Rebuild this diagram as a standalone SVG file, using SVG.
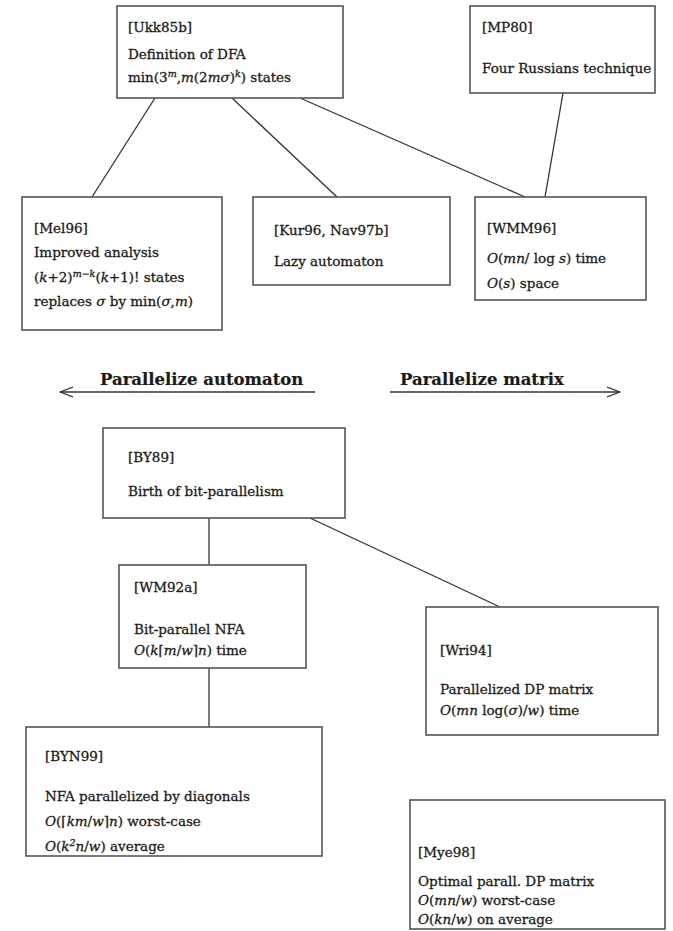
<svg xmlns="http://www.w3.org/2000/svg" width="673" height="931" viewBox="0 0 673 931">
  <style>
    .box { fill: #ffffff; stroke: #555555; stroke-width: 1.6; }
    .edge { stroke: #333333; stroke-width: 1.3; fill: none; }
    text { font-family: "DejaVu Serif", "Liberation Serif", serif; font-size: 13.5px; fill: #1a1a1a; stroke: #1a1a1a; stroke-width: 0.3; }
    .m { font-style: italic; }
    .sup { font-size: 9.5px; font-style: italic; }
    .head { font-size: 16.5px; font-weight: bold; stroke-width: 0.2; }
  </style>
  <defs>
    <marker id="open" viewBox="0 0 14 12" refX="13" refY="6" markerWidth="14" markerHeight="12" markerUnits="userSpaceOnUse" orient="auto-start-reverse">
      <path d="M0,1 L13,6 L0,11" fill="none" stroke="#333333" stroke-width="1.2"/>
    </marker>
  </defs>

  <rect width="673" height="931" fill="#ffffff"/>

  <!-- connectors -->
  <g id="connectors">
    <line class="edge" x1="155" y1="98" x2="92" y2="197"/>
    <line class="edge" x1="232" y1="98" x2="337" y2="197"/>
    <line class="edge" x1="300" y1="98" x2="525" y2="197"/>
    <line class="edge" x1="563" y1="93" x2="545" y2="197"/>
    <line class="edge" x1="209" y1="518" x2="209" y2="565"/>
    <line class="edge" x1="310" y1="518" x2="500" y2="607"/>
    <line class="edge" x1="209" y1="668" x2="209" y2="727"/>
    <line class="edge" x1="315" y1="392" x2="60" y2="392" marker-end="url(#open)"/>
    <line class="edge" x1="390" y1="392" x2="620" y2="392" marker-end="url(#open)"/>
  </g>

  <g id="direction-labels">
    <text class="head" x="100" y="385">Parallelize automaton</text>
    <text class="head" x="400" y="385">Parallelize matrix</text>
  </g>

  <g id="Ukk85b">
    <rect class="box" x="117" y="6" width="226" height="92"/>
    <text x="128" y="32">[Ukk85b]</text>
    <text x="128" y="59">Definition of DFA</text>
    <text x="128" y="82">min(3<tspan class="sup" dy="-5">m</tspan><tspan dy="5">,</tspan><tspan class="m">m</tspan>(2<tspan class="m">mσ</tspan>)<tspan class="sup" dy="-5">k</tspan><tspan dy="5">) states</tspan></text>
  </g>

  <g id="MP80">
    <rect class="box" x="470" y="6" width="185" height="87"/>
    <text x="482" y="32">[MP80]</text>
    <text x="482" y="73">Four Russians technique</text>
  </g>

  <g id="Mel96">
    <rect class="box" x="22" y="197" width="200" height="133"/>
    <text x="34" y="233">[Mel96]</text>
    <text x="34" y="257">Improved analysis</text>
    <text x="34" y="282">(<tspan class="m">k</tspan>+2)<tspan class="sup" dy="-5">m−k</tspan><tspan dy="5">(</tspan><tspan class="m">k</tspan>+1)! states</text>
    <text x="34" y="306">replaces <tspan class="m">σ</tspan> by min(<tspan class="m">σ</tspan>,<tspan class="m">m</tspan>)</text>
  </g>

  <g id="Kur96-Nav97b">
    <rect class="box" x="253" y="197" width="197" height="88"/>
    <text x="274" y="235">[Kur96, Nav97b]</text>
    <text x="274" y="266">Lazy automaton</text>
  </g>

  <g id="WMM96">
    <rect class="box" x="475" y="197" width="171" height="103"/>
    <text x="487" y="233">[WMM96]</text>
    <text x="487" y="263"><tspan class="m">O</tspan>(<tspan class="m">mn</tspan>/ log <tspan class="m">s</tspan>) time</text>
    <text x="487" y="288"><tspan class="m">O</tspan>(<tspan class="m">s</tspan>) space</text>
  </g>

  <g id="BY89">
    <rect class="box" x="103" y="428" width="242" height="90"/>
    <text x="128" y="462">[BY89]</text>
    <text x="128" y="496">Birth of bit-parallelism</text>
  </g>

  <g id="WM92a">
    <rect class="box" x="119" y="565" width="187" height="103"/>
    <text x="134" y="592">[WM92a]</text>
    <text x="134" y="634">Bit-parallel NFA</text>
    <text x="134" y="655"><tspan class="m">O</tspan>(<tspan class="m">k</tspan>⌈<tspan class="m">m</tspan>/<tspan class="m">w</tspan>⌉<tspan class="m">n</tspan>) time</text>
  </g>

  <g id="Wri94">
    <rect class="box" x="426" y="607" width="232" height="128"/>
    <text x="440" y="655">[Wri94]</text>
    <text x="440" y="694">Parallelized DP matrix</text>
    <text x="440" y="715"><tspan class="m">O</tspan>(<tspan class="m">mn</tspan> log(<tspan class="m">σ</tspan>)/<tspan class="m">w</tspan>) time</text>
  </g>

  <g id="BYN99">
    <rect class="box" x="26" y="727" width="296" height="129"/>
    <text x="45" y="761">[BYN99]</text>
    <text x="45" y="801">NFA parallelized by diagonals</text>
    <text x="45" y="826"><tspan class="m">O</tspan>(⌈<tspan class="m">km</tspan>/<tspan class="m">w</tspan>⌉<tspan class="m">n</tspan>) worst-case</text>
    <text x="45" y="851"><tspan class="m">O</tspan>(<tspan class="m">k</tspan><tspan class="sup" dy="-5">2</tspan><tspan class="m" dy="5">n</tspan>/<tspan class="m">w</tspan>) average</text>
  </g>

  <g id="Mye98">
    <rect class="box" x="410" y="800" width="255" height="129"/>
    <text x="418" y="857">[Mye98]</text>
    <text x="418" y="886">Optimal parall. DP matrix</text>
    <text x="418" y="905"><tspan class="m">O</tspan>(<tspan class="m">mn</tspan>/<tspan class="m">w</tspan>) worst-case</text>
    <text x="418" y="924"><tspan class="m">O</tspan>(<tspan class="m">kn</tspan>/<tspan class="m">w</tspan>) on average</text>
  </g>
</svg>
